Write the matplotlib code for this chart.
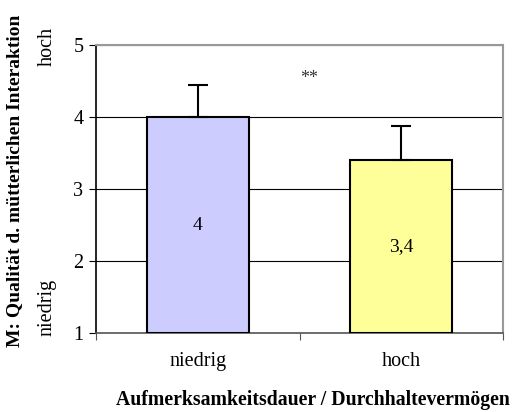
import numpy as np
import matplotlib.pyplot as plt

categories = ["niedrig", "hoch"]
means = [4.0, 3.4]
errors = [0.45, 0.47]
labels = ["4", "3,4"]
colors = ["#CCCCFF", "#FFFF99"]

plt.rcParams['font.family'] = ['Liberation Serif', 'DejaVu Serif']

fig = plt.figure(figsize=(5.12, 4.12), dpi=100)
ax = fig.add_axes([96/512, 1 - 333/412, 407/512, 288/412])

x = np.arange(len(categories))
ax.bar(x, np.array(means) - 1, bottom=1, width=0.5, color=colors,
       edgecolor="black", linewidth=1.5, zorder=3)
ax.errorbar(x, means, yerr=[np.zeros(len(errors)), errors], fmt="none",
            ecolor="black", elinewidth=1.5, capsize=7.5, capthick=1.5, zorder=4)

for i in range(len(x)):
    ax.text(x[i], (means[i] + 1) / 2, labels[i], ha="center", va="center",
            fontsize=14, zorder=5)

ax.text(0.547, 4.53, "**", ha="center", va="center", fontsize=13, color="#333333")

ax.set_xlim(-0.5, 1.5)
ax.set_ylim(1, 5)
ax.set_yticks([1, 2, 3, 4, 5])
ax.yaxis.grid(True, color="black", linewidth=0.8, zorder=0)
ax.set_axisbelow(True)

ax.set_xticks([-0.5, 0.5, 1.5])
ax.set_xticklabels([])
ax.set_xticks(x, minor=True)
ax.set_xticklabels(categories, minor=True, fontsize=14.5)
ax.tick_params(axis="x", which="minor", length=0, pad=14)
ax.tick_params(axis="x", which="major", length=5, color="#555555")
ax.tick_params(axis="y", labelsize=14.5, length=5, pad=4)

for s in ["top", "right"]:
    ax.spines[s].set_color("#999999")
    ax.spines[s].set_linewidth(1.5)
ax.spines["left"].set_linewidth(1.2)
ax.spines["bottom"].set_color("#555555")
ax.spines["bottom"].set_linewidth(1.2)

fig.text(313/512, 1 - 400/412, "Aufmerksamkeitsdauer / Durchhaltevermögen",
         ha="center", va="center", fontsize=14.2, fontweight="bold")
fig.text(15/512, 1 - 181/412, "M: Qualität d. mütterlichen Interaktion",
         rotation=90, ha="center", va="center", fontsize=14, fontweight="bold")
fig.text(47/512, 1 - 46/412, "hoch", rotation=90, ha="center", va="center", fontsize=14.5)
fig.text(47/512, 1 - 307/412, "niedrig", rotation=90, ha="center", va="center", fontsize=14.5)

fig.savefig("out.png", dpi=100)
